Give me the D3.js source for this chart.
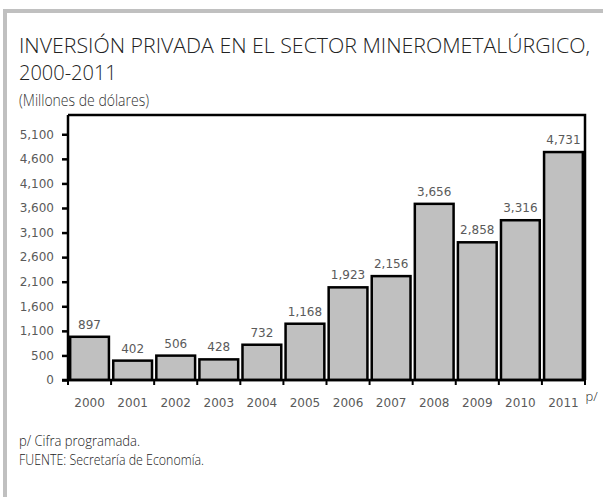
<!DOCTYPE html>
<html>
<head>
<meta charset="utf-8">
<script src="https://cdn.jsdelivr.net/npm/d3@7"></script>
<style>
  html, body { margin: 0; padding: 0; background: #fff; }
  svg { display: block; }
</style>
</head>
<body>
<div id="chart"></div>
<script>
// ---- data ----
const years = ["2000","2001","2002","2003","2004","2005","2006","2007","2008","2009","2010","2011"];
const values = [897, 402, 506, 428, 732, 1168, 1923, 2156, 3656, 2858, 3316, 4731];
const valueLabels = ["897","402","506","428","732","1,168","1,923","2,156","3,656","2,858","3,316","4,731"];
const yTickLabels = ["0","500","1,100","1,600","2,100","2,600","3,100","3,600","4,100","4,600","5,100"];
const yTickStep = 510;
const yMax = 5500;
const titleLines = ["INVERSIÓN PRIVADA EN EL SECTOR MINEROMETALÚRGICO,", "2000-2011"];
const subtitle = "(Millones de dólares)";
const footnotes = ["p/ Cifra programada.", "FUENTE: Secretaría de Economía."];
const lastYearMark = "p/";

// ---- layout ----
const W = 603, H = 497;
const box = { left: 68, right: 585, top: 115, bottom: 380 };

const svg = d3.select("#chart").append("svg").attr("width", W).attr("height", H);

// outer gray frame (top and left)
svg.append("rect").attr("x", 3).attr("y", 9).attr("width", W - 3).attr("height", 4).attr("fill", "#c0c0c0");
svg.append("rect").attr("x", 3).attr("y", 9).attr("width", 4).attr("height", H - 9).attr("fill", "#c0c0c0");

// titles
const titleFont = "'Open Sans', 'Noto Sans', sans-serif";
svg.selectAll("text.title").data(titleLines).enter().append("text")
  .attr("class", "title")
  .attr("x", 19).attr("y", (d, i) => 53 + i * 27)
  .attr("font-family", titleFont).attr("font-size", 20).attr("font-weight", 300)
  .attr("fill", "#222")
  .attr("textLength", (d, i) => i === 0 ? 571 : null)
  .attr("lengthAdjust", "spacingAndGlyphs")
  .text(d => d);

const narrowFont = "'Open Sans', 'Noto Sans', sans-serif";
svg.append("text").attr("x", 19).attr("y", 106)
  .attr("font-family", narrowFont).attr("font-size", 16).attr("font-weight", 300)
  .attr("fill", "#333")
  .attr("textLength", 130).attr("lengthAdjust", "spacingAndGlyphs")
  .text(subtitle);

svg.selectAll("text.foot").data(footnotes).enter().append("text")
  .attr("class", "foot")
  .attr("x", 19).attr("y", (d, i) => 446 + i * 19)
  .attr("font-family", narrowFont).attr("font-size", 15).attr("font-weight", 300)
  .attr("fill", "#222")
  .attr("textLength", (d, i) => i === 0 ? 121 : 185)
  .attr("lengthAdjust", "spacingAndGlyphs")
  .text(d => d);

// ---- scales ----
const x = d3.scaleBand().domain(years).range([box.left, box.right]).paddingInner(0.1).paddingOuter(0.05);
const y = d3.scaleLinear().domain([0, yMax]).range([box.bottom, box.top]);

const g = svg.append("g");

// bars
g.selectAll("rect.bar").data(values).enter().append("rect")
  .attr("class", "bar")
  .attr("x", (d, i) => x(years[i]))
  .attr("y", d => y(d))
  .attr("width", x.bandwidth())
  .attr("height", d => y(0) - y(d))
  .attr("fill", "#c0c0c0")
  .attr("stroke", "#000")
  .attr("stroke-width", 2.5);

// value labels
const numFont = "'DejaVu Sans', sans-serif";
const numColor = "#5a5a5a";
g.selectAll("text.val").data(values).enter().append("text")
  .attr("class", "val")
  .attr("x", (d, i) => x(years[i]) + x.bandwidth() / 2)
  .attr("y", d => y(d) - 8)
  .attr("text-anchor", "middle")
  .attr("font-family", numFont).attr("font-size", 12)
  .attr("fill", numColor)
  .text((d, i) => valueLabels[i]);

// plot box (top and right)
g.append("path")
  .attr("d", `M${box.left},${box.top}H${box.right}V${box.bottom}`)
  .attr("fill", "none").attr("stroke", "#000").attr("stroke-width", 2.5);

// y axis
const yTicks = yTickLabels.map((_, i) => i * yTickStep);
const yAxis = d3.axisLeft(y).tickValues(yTicks).tickSize(6).tickPadding(8)
  .tickFormat((d, i) => yTickLabels[i]);
const ya = g.append("g").attr("transform", `translate(${box.left},0)`).call(yAxis);
ya.select(".domain").remove();
ya.selectAll(".tick line").attr("stroke", "#000").attr("stroke-width", 2.5);
ya.selectAll(".tick text").attr("font-family", numFont).attr("font-size", 12).attr("fill", numColor);
g.append("line").attr("x1", box.left).attr("x2", box.left).attr("y1", box.top).attr("y2", box.bottom)
  .attr("stroke", "#000").attr("stroke-width", 2.5);

// x axis
const xa = g.append("g").attr("transform", `translate(0,${box.bottom})`)
  .call(d3.axisBottom(x).tickSize(0).tickPadding(18));
xa.select(".domain").remove();
xa.selectAll(".tick text").attr("font-family", numFont).attr("font-size", 12).attr("fill", numColor);
g.append("line").attr("x1", box.left - 6).attr("x2", box.right).attr("y1", box.bottom).attr("y2", box.bottom)
  .attr("stroke", "#000").attr("stroke-width", 2.5);
const boundaries = d3.range(years.length + 1).map(i => box.left + i * x.step());
g.selectAll("line.xt").data(boundaries).enter().append("line")
  .attr("class", "xt")
  .attr("x1", d => d).attr("x2", d => d)
  .attr("y1", box.bottom).attr("y2", box.bottom + 5)
  .attr("stroke", "#000").attr("stroke-width", 2);

// p/ mark on last year
svg.append("text")
  .attr("x", x(years[years.length - 1]) + x.bandwidth() / 2 + 22)
  .attr("y", box.bottom + 21)
  .attr("font-family", narrowFont).attr("font-size", 13).attr("font-weight", 300).attr("fill", "#222")
  .text(lastYearMark);
</script>
</body>
</html>
